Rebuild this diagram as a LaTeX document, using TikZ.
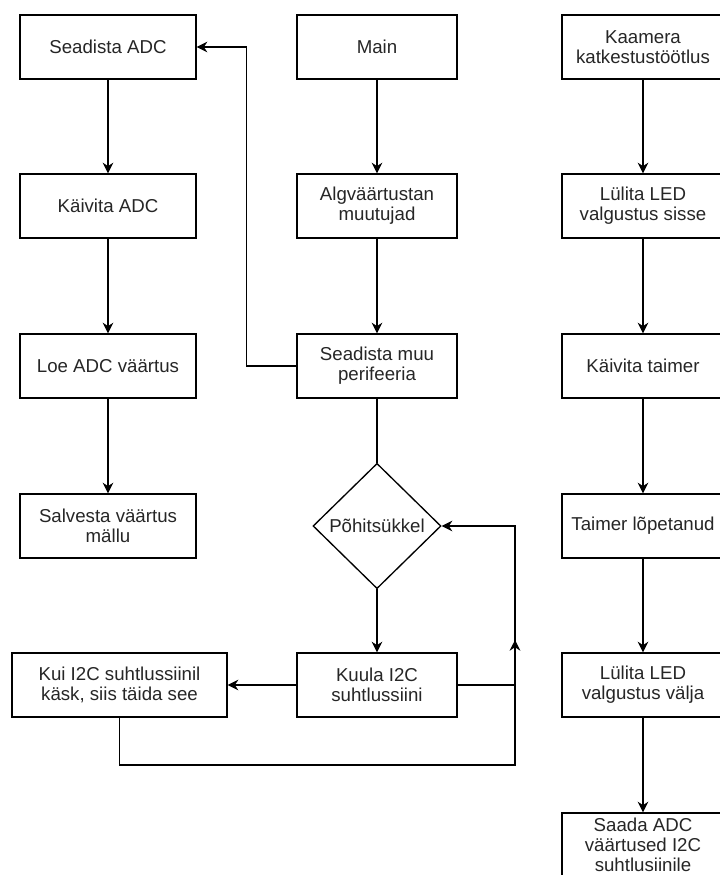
\documentclass[tikz,border=0pt]{standalone}
\usepackage{fontspec}
\setmainfont{Liberation Sans}
\usetikzlibrary{shapes.geometric,arrows.meta}

\begin{document}
\begin{tikzpicture}[
  x=0.75pt, y=-0.75pt,
  every node/.style={font=\fontsize{14}{15}\selectfont, text=black!85, align=center},
  box/.style={draw, line width=1pt, rectangle, minimum height=48pt, inner sep=2pt},
  boxL/.style={box, minimum width=132pt},
  boxM/.style={box, minimum width=120pt},
  boxR/.style={box, minimum width=121.5pt},
  boxW/.style={box, minimum width=161.25pt},
  decision/.style={draw, line width=1pt, diamond, minimum width=96pt, minimum height=94pt, inner sep=0pt},
  link/.style={line width=1pt},
  flow/.style={link, -{Stealth[length=8pt, width=8pt, inset=2.6pt]}}
]
\clip (0,0) rectangle (720,875);
\fill[white] (0,0) rectangle (720,875);

% ADC branch
\node[boxL] (sadc) at (108,47)  {Seadista ADC};
\node[boxL] (kadc) at (108,206) {Käivita ADC};
\node[boxL] (ladc) at (108,366) {Loe ADC väärtus};
\node[boxL] (smem) at (108,526) {Salvesta väärtus\\mällu};

% main program
\node[boxM] (main) at (377,47)  {Main};
\node[boxM] (init) at (377,206) {Algväärtustan\\muutujad};
\node[boxM] (peri) at (377,366) {Seadista muu\\perifeeria};
\node[decision] (loop) at (377,526) {Põhitsükkel};
\node[boxM] (kuula) at (377,685) {Kuula I2C\\suhtlussiini};
\node[boxW] (kask) at (119.5,685) {Kui I2C suhtlussiinil\\käsk, siis täida see};

% camera interrupt handler
\node[boxR] (cam)  at (643,47)  {Kaamera\\katkestustöötlus};
\node[boxR] (ledon) at (643,206) {Lülita LED\\valgustus sisse};
\node[boxR] (tstart) at (643,366) {Käivita taimer};
\node[boxR] (tdone) at (643,526) {Taimer lõpetanud};
\node[boxR] (ledoff) at (643,685) {Lülita LED\\valgustus välja};
\node[boxR] (send) at (643,845) {Saada ADC\\väärtused I2C\\suhtlusiinile};

% helper points of the loop-back lines
\coordinate (rjoin) at (515,685);
\coordinate (rmerge) at (515,640);
\coordinate (rlow) at (515,765);

% ADC chain
\draw[flow] (sadc) -- (kadc);
\draw[flow] (kadc) -- (ladc);
\draw[flow] (ladc) -- (smem);

% main chain
\draw[flow] (main) -- (init);
\draw[flow] (init) -- (peri);
\draw[flow] (peri.west) -- ++(-50,0) |- (sadc.east);
\draw[link] (peri) -- (loop.north);
\draw[flow] (loop.south) -- (kuula);
\draw[flow] (kuula) -- (kask);
\draw[flow] (kuula.east) -- (rjoin) |- (loop.east);
\draw[flow] (kask.south) |- (rlow) -- (rmerge);

% interrupt chain
\draw[flow] (cam) -- (ledon);
\draw[flow] (ledon) -- (tstart);
\draw[flow] (tstart) -- (tdone);
\draw[flow] (tdone) -- (ledoff);
\draw[flow] (ledoff) -- (send);
\end{tikzpicture}
\end{document}
